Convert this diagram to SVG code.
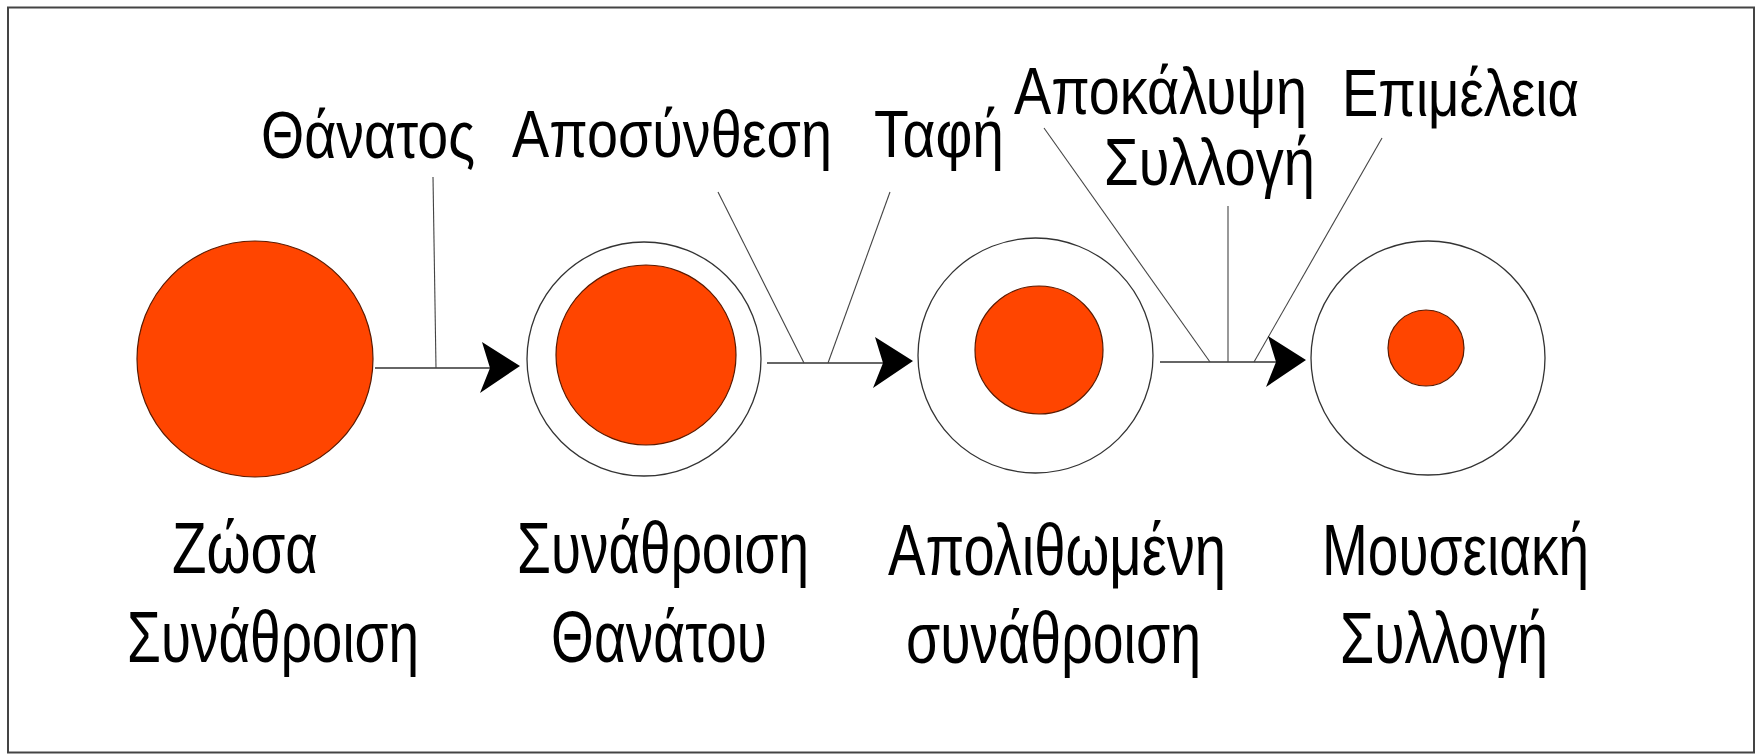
<svg xmlns="http://www.w3.org/2000/svg" xmlns:xlink="http://www.w3.org/1999/xlink" width="1760" height="755" viewBox="0 0 1760 755">
<style>
.frame{fill:#fff;stroke:#444;stroke-width:2}
.red{fill:#FF4500;stroke:#5a1a00;stroke-width:1.2}
.ring{fill:#fff;stroke:#333;stroke-width:1.3}
.ln{stroke:#333;stroke-width:1.6;fill:none}
.lt{stroke:#444;stroke-width:1.1;fill:none}
.t{font-family:"Liberation Sans",Arial,sans-serif;fill:#000}
.top{font-size:67px}
.bot{font-size:73px}
</style>
<defs>
<path id="head" d="M0,-2 L-38,-26 L-30,0 L-40,25 Z" fill="#000"/>
</defs>
<rect class="frame" x="8" y="7.5" width="1746" height="745"/>

<g id="connectors">
<line class="ln" x1="375" y1="368" x2="492" y2="368"/>
<line class="lt" x1="433" y1="177" x2="436" y2="368"/>
<use xlink:href="#head" href="#head" x="520" y="368"/>

<line class="ln" x1="767" y1="363" x2="884" y2="363"/>
<line class="lt" x1="718" y1="192" x2="804" y2="363"/>
<line class="lt" x1="890" y1="192" x2="828" y2="363"/>
<use xlink:href="#head" href="#head" x="913" y="363"/>

<line class="ln" x1="1160" y1="362" x2="1276" y2="362"/>
<line class="lt" x1="1044" y1="128" x2="1210" y2="362"/>
<line class="lt" x1="1228" y1="206" x2="1228" y2="362"/>
<line class="lt" x1="1382" y1="138" x2="1254" y2="362"/>
<use xlink:href="#head" href="#head" x="1306" y="362"/>
</g>

<g id="node-living">
<circle class="red" cx="255" cy="359" r="118"/>
<text class="t bot" x="172" y="573" textLength="146" lengthAdjust="spacingAndGlyphs">Ζώσα</text>
<text class="t bot" x="127" y="662" textLength="292" lengthAdjust="spacingAndGlyphs">Συνάθροιση</text>
</g>

<g id="node-death">
<circle class="ring" cx="644" cy="359" r="117"/>
<circle class="red" cx="646" cy="355" r="90"/>
<text class="t bot" x="517" y="573" textLength="292" lengthAdjust="spacingAndGlyphs">Συνάθροιση</text>
<text class="t bot" x="551" y="662" textLength="216" lengthAdjust="spacingAndGlyphs">Θανάτου</text>
</g>

<g id="node-fossil">
<circle class="ring" cx="1035.5" cy="355.5" r="117.5"/>
<circle class="red" cx="1039" cy="350" r="64"/>
<text class="t bot" x="888" y="575" textLength="338" lengthAdjust="spacingAndGlyphs">Απολιθωμένη</text>
<text class="t bot" x="906" y="663" textLength="295" lengthAdjust="spacingAndGlyphs">συνάθροιση</text>
</g>

<g id="node-museum">
<circle class="ring" cx="1428" cy="358" r="117"/>
<circle class="red" cx="1426" cy="348" r="38"/>
<text class="t bot" x="1322" y="575" textLength="267" lengthAdjust="spacingAndGlyphs">Μουσειακή</text>
<text class="t bot" x="1340" y="663" textLength="208" lengthAdjust="spacingAndGlyphs">Συλλογή</text>
</g>

<g id="labels">
<text class="t top" x="261" y="158" textLength="214" lengthAdjust="spacingAndGlyphs">Θάνατος</text>
<text class="t top" x="512" y="157" textLength="320" lengthAdjust="spacingAndGlyphs">Αποσύνθεση</text>
<text class="t top" x="874" y="157" textLength="130" lengthAdjust="spacingAndGlyphs">Ταφή</text>
<text class="t top" x="1014" y="114" textLength="293" lengthAdjust="spacingAndGlyphs">Αποκάλυψη</text>
<text class="t top" x="1104" y="185" textLength="211" lengthAdjust="spacingAndGlyphs">Συλλογή</text>
<text class="t top" x="1342" y="116" textLength="237" lengthAdjust="spacingAndGlyphs">Επιμέλεια</text>
</g>
</svg>
